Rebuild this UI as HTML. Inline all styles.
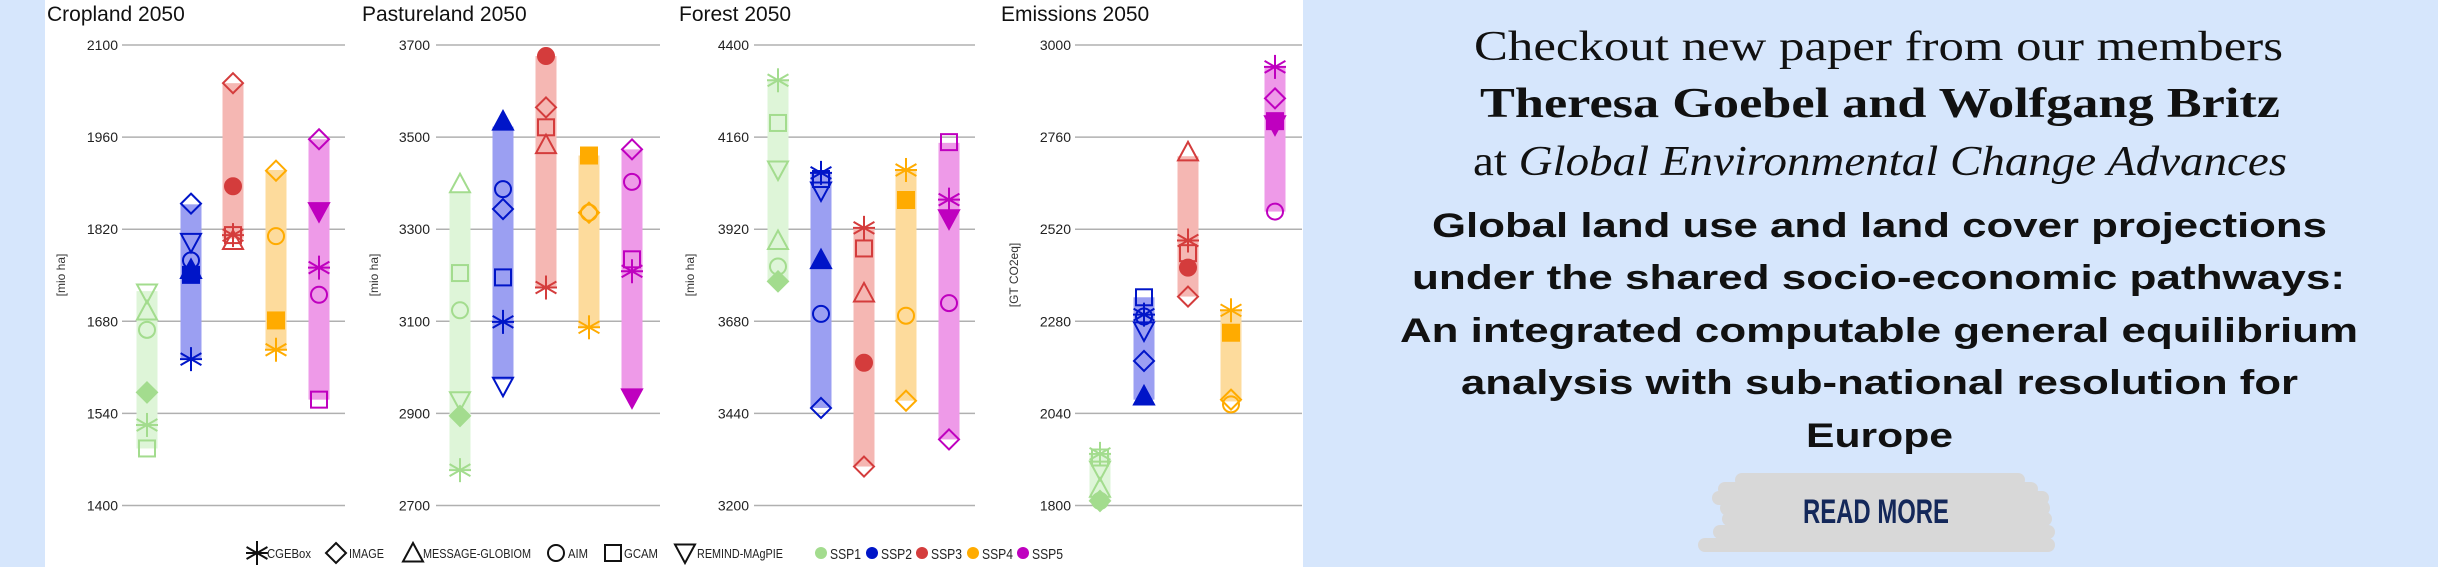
<!DOCTYPE html>
<html><head><meta charset="utf-8"><style>
html,body{margin:0;padding:0;background:#d6e6fc;}
svg{display:block}
</style></head><body>
<svg id="s" width="2438" height="567" xmlns="http://www.w3.org/2000/svg" font-family="Liberation Sans, sans-serif">
<rect x="0" y="0" width="2438" height="567" fill="#d6e6fc"/>
<rect x="45" y="0" width="1258" height="567" fill="#ffffff"/>
<g id="charts"></g>
<g font-size="13" fill="#222" id="legend"></g>
<g fill="#111">
<text x="1474" y="60" font-family="Liberation Serif, serif" font-size="42" textLength="809" lengthAdjust="spacingAndGlyphs">Checkout new paper from our members</text>
<text x="1480" y="117" font-family="Liberation Serif, serif" font-weight="bold" font-size="42" textLength="800" lengthAdjust="spacingAndGlyphs">Theresa Goebel and Wolfgang Britz</text>
<text x="1473" y="175" font-family="Liberation Serif, serif" font-size="42" textLength="814" lengthAdjust="spacingAndGlyphs">at <tspan font-style="italic">Global Environmental Change Advances</tspan></text>
<g font-weight="bold" font-size="34">
<text x="1432" y="237" textLength="895" lengthAdjust="spacingAndGlyphs">Global land use and land cover projections</text>
<text x="1412" y="289" textLength="933" lengthAdjust="spacingAndGlyphs">under the shared socio-economic pathways:</text>
<text x="1400" y="342" textLength="958" lengthAdjust="spacingAndGlyphs">An integrated computable general equilibrium</text>
<text x="1461" y="394" textLength="837" lengthAdjust="spacingAndGlyphs">analysis with sub-national resolution for</text>
<text x="1806" y="447" textLength="147" lengthAdjust="spacingAndGlyphs">Europe</text>
</g>
</g>
<g fill="#d8d8d8">
<rect x="1735" y="473" width="290" height="14" rx="7"/>
<rect x="1718" y="482" width="320" height="14" rx="7"/>
<rect x="1712" y="491" width="337" height="14" rx="7"/>
<rect x="1720" y="500" width="330" height="16" rx="8"/>
<rect x="1722" y="512" width="330" height="14" rx="7"/>
<rect x="1713" y="525" width="342" height="14" rx="7"/>
<rect x="1698" y="538" width="357" height="14" rx="7"/>
</g>
<text x="1803" y="523" font-family="Liberation Sans Narrow, Liberation Sans, sans-serif" font-weight="bold" font-size="34" fill="#14285a" textLength="146" lengthAdjust="spacingAndGlyphs">READ MORE</text>
</svg>
<script>
var NS="http://www.w3.org/2000/svg";
var g=document.getElementById('charts');
function el(t,a,p){var e=document.createElementNS(NS,t);for(var k in a)e.setAttribute(k,a[k]);(p||g).appendChild(e);return e;}
var MC=['#a3dc8e','#0015c8','#d43c3c','#ffab00','#bf00bf'];
var BC=['#def5d8','#9b9ff2','#f5b7b3','#fddb9c','#ee9ae8'];
function marker(sh,x,y,c,f,p){
  var s=10,fill=f?c:'none',sw=2,a={stroke:c,'stroke-width':sw,fill:fill};
  if(sh=='*'){var r=12;
    el('line',{x1:x-11,y1:y,x2:x+11,y2:y,stroke:c,'stroke-width':sw},p);
    el('line',{x1:x,y1:y-r,x2:x,y2:y+r,stroke:c,'stroke-width':sw},p);
    el('line',{x1:x-r*0.87,y1:y-r*0.5,x2:x+r*0.87,y2:y+r*0.5,stroke:c,'stroke-width':sw},p);
    el('line',{x1:x-r*0.87,y1:y+r*0.5,x2:x+r*0.87,y2:y-r*0.5,stroke:c,'stroke-width':sw},p);}
  else if(sh=='d'){a.points=[x,y-s,x+s,y,x,y+s,x-s,y].join(' ');el('polygon',a,p);}
  else if(sh=='t'){a.points=[x,y-s,x+s,y+s*0.85,x-s,y+s*0.85].join(' ');el('polygon',a,p);}
  else if(sh=='v'){a.points=[x,y+s,x+s,y-s*0.85,x-s,y-s*0.85].join(' ');el('polygon',a,p);}
  else if(sh=='o'){a.cx=x;a.cy=y;a.r=8;el('circle',a,p);}
  else if(sh=='s'){a.x=x-8;a.y=y-8;a.width=16;a.height=16;el('rect',a,p);}
}
var K=2.765;
var panels=[
 {title:'Cropland 2050',tx:47,lr:118,g0:122,g1:345,bx:[147,191,233,276,319],yl:61,ylab:'[mio ha]',ticks:[2100,1960,1820,1680,1540,1400],
  bars:[[805,1240],[565,990],[230,660],[470,965],[385,1105]],
  m:[[['v',810],['t',860],['o',912],['d',1085,1],['*',1175],['s',1240]],
     [['d',563],['v',670],['o',720],['s',760,1],['t',745,1],['*',993]],
     [['d',230],['o',515,1],['*',650],['s',650],['t',665]],
     [['d',472],['o',653],['s',886,1],['*',967]],
     [['d',385],['v',585,1],['*',740],['o',815],['s',1105]]]},
 {title:'Pastureland 2050',tx:362,lr:430,g0:436,g1:660,bx:[460,503,546,589,632],yl:374,ylab:'[mio ha]',ticks:[3700,3500,3300,3100,2900,2700],
  bars:[[530,1300],[350,1050],[155,795],[430,905],[413,1080]],
  m:[[['t',508],['s',755],['o',858],['v',1108],['d',1150,1],['*',1300]],
     [['t',335,1],['o',523],['d',578],['s',767],['*',890],['v',1068]],
     [['o',155,1],['d',297],['s',352],['t',400],['*',795]],
     [['s',430,1],['d',588],['o',588],['*',905]],
     [['d',413],['o',503],['s',717],['*',750],['v',1100,1]]]},
 {title:'Forest 2050',tx:679,lr:749,g0:754,g1:975,bx:[778,821,864,906,949],yl:690,ylab:'[mio ha]',ticks:[4400,4160,3920,3680,3440,3200],
  bars:[[222,780],[480,1128],[630,1290],[470,1108],[395,1215]],
  m:[[['*',222],['s',340],['v',470],['t',665],['o',737],['d',778,1]],
     [['*',478],['s',495],['v',528],['t',718,1],['o',868],['d',1128]],
     [['*',630],['s',687],['t',810],['o',1003,1],['d',1290]],
     [['*',470],['s',553,1],['o',873],['d',1108]],
     [['s',393],['*',552],['v',605,1],['o',838],['d',1215]]]},
 {title:'Emissions 2050',tx:1001,lr:1071,g0:1075,g1:1302,bx:[1100,1144,1188,1231,1275],yl:1014,ylab:'[GT CO2eq]',ticks:[3000,2760,2520,2280,2040,1800],
  bars:[[1255,1385],[822,1105],[432,820],[858,1110],[185,585]],
  m:[[['*',1255],['s',1265],['v',1300],['t',1350],['o',1385],['d',1385,1]],
     [['s',822],['*',870],['o',875],['v',915],['d',998],['t',1095,1]],
     [['t',420],['*',665],['s',700],['o',740,1],['d',820]],
     [['*',858],['s',920,1],['d',1105],['o',1118]],
     [['*',185],['d',272],['s',335,1],['v',345,1],['o',585]]]}
];
panels.forEach(function(P){
  var t=el('text',{x:P.tx,y:21,'font-size':21,fill:'#111'});t.textContent=P.title;
  P.ticks.forEach(function(v,i){var y=45+i*92.1;
    el('line',{x1:P.g0,y1:y,x2:P.g1,y2:y,stroke:'#b0b0b0','stroke-width':1.5});
    var tt=el('text',{x:P.lr,y:y+5,'font-size':14,fill:'#222','text-anchor':'end'});tt.textContent=v;});
  var yl=el('text',{x:0,y:0,'font-size':12,fill:'#333','text-anchor':'middle',transform:'translate('+(P.yl+4)+',275) rotate(-90)'});yl.textContent=P.ylab;
  P.bars.forEach(function(b,i){el('rect',{x:P.bx[i]-10.5,y:b[0]/K,width:21,height:(b[1]-b[0])/K,fill:BC[i]});});
  P.m.forEach(function(list,i){list.forEach(function(m){marker(m[0],P.bx[i],m[1]/K,MC[i],m[2]);});});
});
var L=document.getElementById('legend');
var items=[['*',257,267,'CGEBox',44],['d',336,349,'IMAGE',35],['t',413,423,'MESSAGE-GLOBIOM',108],['o',556,568,'AIM',20],['s',613,624,'GCAM',34],['v',685,697,'REMIND-MAgPIE',86]];
items.forEach(function(it){marker(it[0],it[1],553,'#111',0,L);var t=el('text',{x:it[2],y:558,'font-size':13,fill:'#222',textLength:it[4],lengthAdjust:'spacingAndGlyphs'},L);t.textContent=it[3];});
var sx=[821,872,922,973,1023];
sx.forEach(function(x,i){el('circle',{cx:x,cy:553,r:6,fill:MC[i]},L);var t=el('text',{x:x+9,y:559,'font-size':15,fill:'#222',textLength:31,lengthAdjust:'spacingAndGlyphs'},L);t.textContent='SSP'+(i+1);});
</script>
</body></html>
